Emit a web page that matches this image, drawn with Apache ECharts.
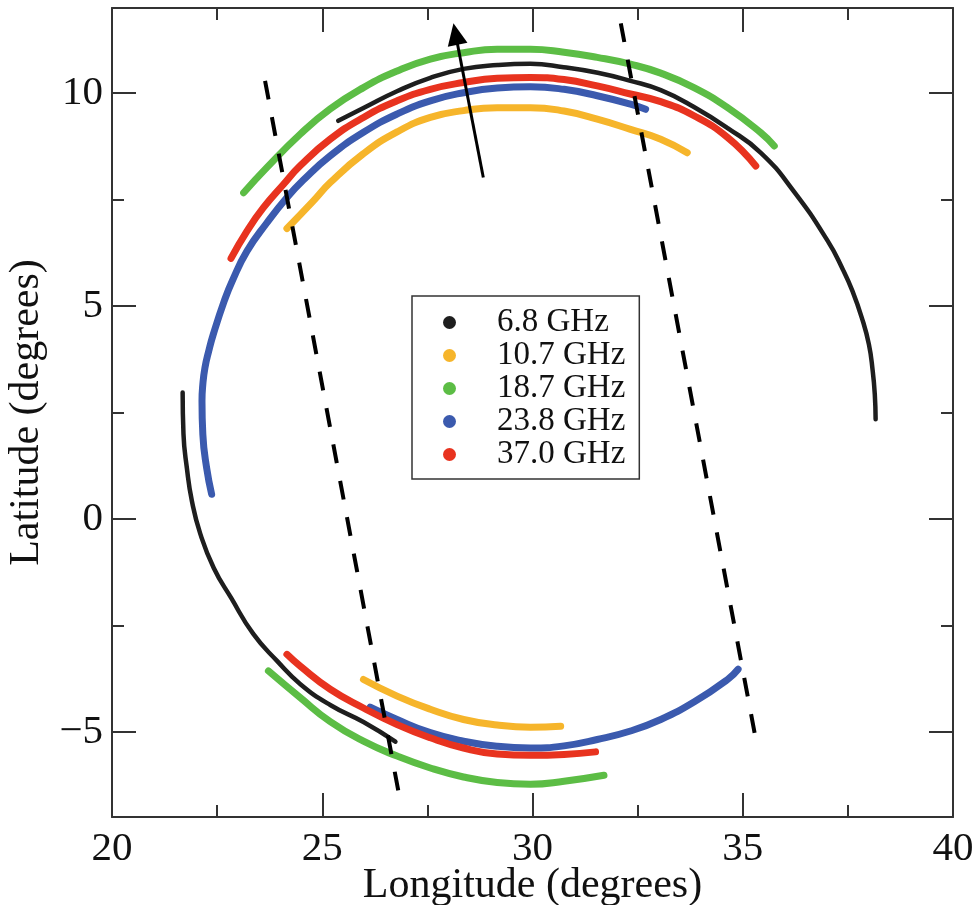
<!DOCTYPE html>
<html>
<head>
<meta charset="utf-8">
<title>Latitude vs Longitude</title>
<script src="https://cdn.jsdelivr.net/npm/echarts@6/dist/echarts.min.js"></script>
<style>
  html, body { margin: 0; padding: 0; background: #ffffff; }
  #chart { width: 976px; height: 905px; }
</style>
</head>
<body>
<div id="chart"></div>
<script>
// Axis ticks
const xTicks = [20, 25, 30, 35, 40];
const yTicks = [-5, 0, 5, 10];
const yMinorTicks = [-2.5, 2.5, 7.5];

// Channel names
const channels = ['6.8 GHz', '10.7 GHz', '18.7 GHz', '23.8 GHz', '37.0 GHz'];

// 6.8 GHz track, [longitude, latitude]
const ghz68Upper = [
  [25.38, 9.35], [25.98, 9.65], [26.79, 10.05], [27.57, 10.36], [28.36, 10.57],
  [29.17, 10.66], [29.95, 10.69], [30.74, 10.61], [31.55, 10.48], [32.33, 10.29],
  [33.05, 10.07], [33.83, 9.68], [34.64, 9.18], [35.43, 8.60], [36.21, 7.70],
  [37.02, 6.53], [37.38, 5.86], [37.61, 5.35], [37.83, 4.73], [38.00, 4.10],
  [38.09, 3.48], [38.14, 2.93], [38.16, 2.34]
];
const ghz68Lower = [
  [21.68, 2.97], [21.70, 1.99], [21.78, 1.20], [21.90, 0.42], [22.10, -0.35],
  [22.42, -1.15], [22.83, -1.85], [23.36, -2.70], [23.93, -3.34], [24.48, -3.88],
  [25.19, -4.37], [25.98, -4.77], [26.74, -5.23]
];

// 10.7 GHz track
const ghz107Upper = [
  [24.16, 6.82], [24.79, 7.47], [25.19, 7.90], [25.98, 8.58], [26.78, 9.09],
  [27.57, 9.43], [28.36, 9.59], [29.16, 9.66], [29.95, 9.66], [30.75, 9.58],
  [31.54, 9.39], [32.33, 9.15], [33.05, 8.92], [33.68, 8.60]
];
const ghz107Lower = [
  [25.98, -3.77], [26.78, -4.16], [27.57, -4.47], [28.36, -4.71], [29.16, -4.84],
  [29.95, -4.89], [30.67, -4.87]
];

// 18.7 GHz track
const ghz187Upper = [
  [23.13, 7.66], [23.68, 8.25], [24.48, 9.04], [25.19, 9.63], [25.98, 10.13],
  [26.78, 10.52], [27.57, 10.80], [28.36, 10.95], [29.16, 11.03], [29.95, 11.03],
  [30.75, 10.96], [31.54, 10.84], [32.33, 10.68], [33.05, 10.47], [33.84, 10.13],
  [34.64, 9.66], [35.43, 9.07], [35.75, 8.76]
];
const ghz187Lower = [
  [23.72, -3.57], [24.48, -4.20], [25.19, -4.76], [25.98, -5.22], [26.78, -5.57],
  [27.57, -5.85], [28.36, -6.06], [29.16, -6.19], [29.95, -6.23], [30.75, -6.16],
  [31.70, -6.02]
];

// 23.8 GHz track
const ghz238Upper = [
  [22.37, 0.58], [22.25, 1.20], [22.16, 1.99], [22.14, 2.77], [22.16, 3.16],
  [22.21, 3.55], [22.30, 3.94], [22.41, 4.34], [22.67, 5.12], [22.86, 5.59],
  [23.21, 6.29], [23.68, 6.95], [24.16, 7.55], [24.55, 7.96], [25.19, 8.53],
  [25.98, 9.08], [26.78, 9.51], [27.57, 9.82], [28.36, 10.01], [29.16, 10.12],
  [29.95, 10.15], [30.75, 10.09], [31.54, 9.94], [32.33, 9.74], [32.69, 9.62]
];
const ghz238Lower = [
  [26.14, -4.42], [26.78, -4.71], [27.57, -5.02], [28.36, -5.22], [29.16, -5.34],
  [29.95, -5.38], [30.75, -5.33], [31.54, -5.18], [32.33, -4.98], [33.05, -4.71],
  [33.84, -4.30], [34.64, -3.77], [34.89, -3.53]
];

// 37.0 GHz track
const ghz370Upper = [
  [22.83, 6.12], [23.21, 6.76], [23.60, 7.31], [24.08, 7.86], [24.48, 8.30],
  [25.19, 8.92], [25.98, 9.43], [26.78, 9.82], [27.57, 10.09], [28.36, 10.25],
  [29.16, 10.35], [29.95, 10.37], [30.75, 10.32], [31.54, 10.17], [32.33, 9.98],
  [33.05, 9.80], [33.84, 9.47], [34.64, 8.96], [35.31, 8.29]
];
const ghz370Lower = [
  [24.16, -3.18], [24.48, -3.46], [25.19, -4.00], [25.98, -4.44], [26.78, -4.83],
  [27.57, -5.14], [28.36, -5.38], [29.16, -5.52], [29.95, -5.55], [30.75, -5.53],
  [31.50, -5.47]
];

// Dashed guide lines and the direction arrow
const guideWest = [[23.64, 10.29], [26.88, -6.76]];
const guideEast = [[32.10, 11.64], [35.35, -5.38]];
const arrowTail = [28.83, 8.02];
const arrowTip = [28.17, 11.39];

const colors = {
  '6.8 GHz': '#1e1e1e',
  '10.7 GHz': '#f6b52b',
  '18.7 GHz': '#5cbd45',
  '23.8 GHz': '#3b5aae',
  '37.0 GHz': '#e8331f'
};

const FONT = '"Liberation Serif", "Times New Roman", serif';
const AXIS_COLOR = '#333333';

function track(name, data, width) {
  return {
    name: name,
    type: 'line',
    data: data,
    xAxisIndex: 0,
    yAxisIndex: 0,
    showSymbol: false,
    symbol: 'circle',
    smooth: 0.5,
    color: colors[name],
    lineStyle: { color: colors[name], width: width, cap: 'round', join: 'round' },
    emphasis: { disabled: true },
    animation: false,
    z: 3
  };
}

function guide(data) {
  return {
    type: 'line',
    data: data,
    xAxisIndex: 0,
    yAxisIndex: 0,
    showSymbol: false,
    lineStyle: { color: '#000000', width: 4, type: [19, 18] },
    emphasis: { disabled: true },
    animation: false,
    z: 5
  };
}

const axisLineStyle = { color: AXIS_COLOR, width: 2 };
const fmtMinus = v => (v < 0 ? '\u2212' + Math.abs(v) : String(v));

function xAxisDef(position, withLabels) {
  return {
    type: 'value',
    position: position,
    min: xTicks[0],
    max: xTicks[xTicks.length - 1],
    interval: 5,
    axisLine: { show: true, onZero: false, lineStyle: axisLineStyle },
    axisTick: { show: true, inside: true, length: 24, lineStyle: axisLineStyle },
    minorTick: { show: true, splitNumber: 2, length: 12, lineStyle: axisLineStyle },
    splitLine: { show: false },
    minorSplitLine: { show: false },
    axisLabel: {
      show: withLabels,
      fontFamily: FONT,
      fontSize: 41,
      color: '#111111',
      margin: 12,
      formatter: fmtMinus
    },
    name: withLabels ? 'Longitude (degrees)' : '',
    nameLocation: 'middle',
    nameGap: 48,
    nameMoveOverlap: false,
    nameTextStyle: { fontFamily: FONT, fontSize: 42, color: '#111111' }
  };
}

function yAxisDef(position, major, withLabels) {
  return {
    type: 'value',
    position: position,
    min: -7,
    max: 12,
    axisLine: { show: major, onZero: false, lineStyle: axisLineStyle },
    axisTick: {
      show: true,
      inside: true,
      length: major ? 24 : 12,
      customValues: major ? yTicks : yMinorTicks,
      lineStyle: axisLineStyle
    },
    splitLine: { show: false },
    axisLabel: {
      show: withLabels,
      customValues: yTicks,
      fontFamily: FONT,
      fontSize: 41,
      color: '#111111',
      margin: 9,
      formatter: fmtMinus
    },
    name: withLabels ? 'Latitude (degrees)' : '',
    nameLocation: 'middle',
    nameGap: 64,
    nameTextStyle: { fontFamily: FONT, fontSize: 42, color: '#111111' }
  };
}

const series = [
  track('6.8 GHz', ghz68Upper, 4.5),
  track('6.8 GHz', ghz68Lower, 4.5),
  track('10.7 GHz', ghz107Upper, 7),
  track('10.7 GHz', ghz107Lower, 7),
  track('18.7 GHz', ghz187Upper, 7),
  track('18.7 GHz', ghz187Lower, 7),
  track('23.8 GHz', ghz238Upper, 7),
  track('23.8 GHz', ghz238Lower, 7),
  track('37.0 GHz', ghz370Upper, 7),
  track('37.0 GHz', ghz370Lower, 7),
  guide(guideWest),
  guide(guideEast),
  {
    type: 'line',
    data: [],
    xAxisIndex: 0,
    yAxisIndex: 0,
    animation: false,
    markLine: {
      silent: true,
      animation: false,
      symbol: ['none', 'triangle'],
      symbolSize: [20, 22],
      label: { show: false },
      lineStyle: { color: '#000000', width: 3, type: 'solid' },
      itemStyle: { color: '#000000' },
      emphasis: { disabled: true },
      data: [[{ coord: arrowTail }, { coord: arrowTip }]]
    },
    z: 6
  }
];

const chart = echarts.init(document.getElementById('chart'), null, { renderer: 'canvas' });
chart.setOption({
  backgroundColor: '#ffffff',
  animation: false,
  grid: {
    left: 112, right: 23, top: 8, bottom: 88,
    containLabel: false,
    outerBoundsMode: 'none'
  },
  xAxis: [xAxisDef('bottom', true), xAxisDef('top', false)],
  yAxis: [
    yAxisDef('left', true, true),
    yAxisDef('left', false, false),
    yAxisDef('right', true, false),
    yAxisDef('right', false, false)
  ],
  legend: {
    data: channels.map(n => ({ name: n, icon: 'circle' })),
    orient: 'vertical',
    left: 412,
    top: 296,
    padding: [10, 14, 8, 31],
    itemGap: 0,
    itemWidth: 13,
    itemHeight: 13,
    selectedMode: false,
    borderColor: '#333333',
    borderWidth: 1.5,
    backgroundColor: '#ffffff',
    textStyle: {
      fontFamily: FONT,
      fontSize: 33,
      color: '#111111',
      padding: [0, 0, 0, 36]
    }
  },
  series: series
});
</script>
</body>
</html>
